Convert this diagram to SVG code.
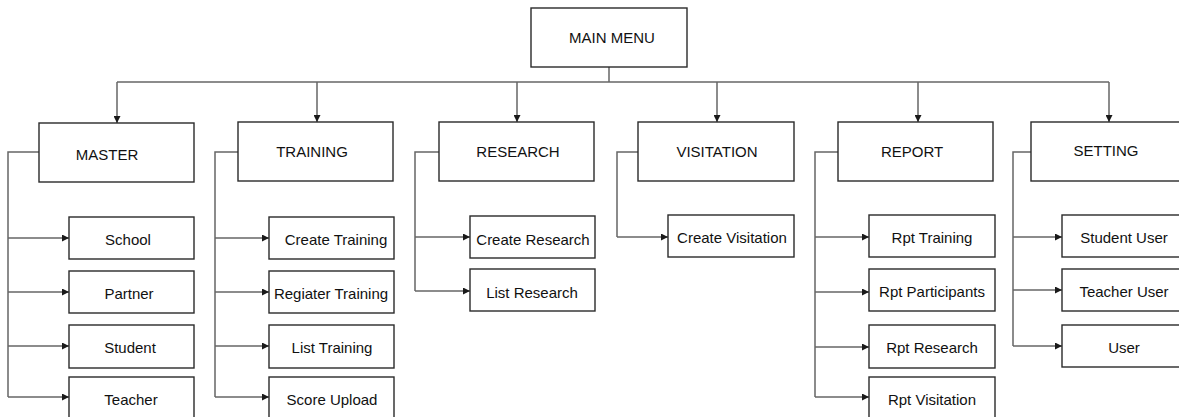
<svg xmlns="http://www.w3.org/2000/svg" width="1179" height="417" viewBox="0 0 1179 417">
<style>
.box{fill:#fff;stroke:#2a2a2a;stroke-width:1.4}
.lbl{font-family:"Liberation Sans",Arial,sans-serif;font-size:15px;fill:#111;text-anchor:middle}
.con{fill:none;stroke:#666;stroke-width:1.5}
.arr{fill:none;stroke:#666;stroke-width:1.5;marker-end:url(#ah)}
</style>
<defs>
<marker id="ah" viewBox="0 0 8 8" refX="8" refY="4" markerWidth="7" markerHeight="7" markerUnits="userSpaceOnUse" orient="auto">
<path d="M0,0 L8,4 L0,8 z" fill="#1a1a1a"/>
</marker>
</defs>
<rect width="1179" height="417" fill="#fff"/>
<g id="connectors">
<path class="con" d="M609,67 V82" stroke="#333" stroke-width="2"/>
<path class="con" d="M117,82 H1109"/>
<path class="arr" d="M117,82 V123"/>
<path class="arr" d="M317,82 V122"/>
<path class="arr" d="M517,82 V122"/>
<path class="arr" d="M717,82 V122"/>
<path class="arr" d="M918,82 V122"/>
<path class="arr" d="M1109,82 V122"/>
<!-- MASTER -->
<path class="con" d="M39,152 H8 V397"/>
<path class="arr" d="M8,238 H69"/>
<path class="arr" d="M8,292 H69"/>
<path class="arr" d="M8,346 H69"/>
<path class="arr" d="M8,397 H69"/>
<!-- TRAINING -->
<path class="con" d="M238,152 H215 V397"/>
<path class="arr" d="M215,238 H269"/>
<path class="arr" d="M215,292 H269"/>
<path class="arr" d="M215,346 H269"/>
<path class="arr" d="M215,397 H269"/>
<!-- RESEARCH -->
<path class="con" d="M439,152 H415 V291"/>
<path class="arr" d="M415,237 H470"/>
<path class="arr" d="M415,291 H470"/>
<!-- VISITATION -->
<path class="con" d="M638,152 H617 V237"/>
<path class="arr" d="M617,237 H668"/>
<!-- REPORT -->
<path class="con" d="M838,152 H815 V397"/>
<path class="arr" d="M815,237 H869"/>
<path class="arr" d="M815,292 H869"/>
<path class="arr" d="M815,347 H869"/>
<path class="arr" d="M815,397 H869"/>
<!-- SETTING -->
<path class="con" d="M1031,152 H1013 V346"/>
<path class="arr" d="M1013,237 H1062"/>
<path class="arr" d="M1013,290 H1062"/>
<path class="arr" d="M1013,346 H1062"/>
</g>
<g id="main-menu"><rect class="box" x="531" y="8" width="156" height="59"/><text class="lbl" x="612" y="43">MAIN MENU</text></g>
<g id="master"><rect class="box" x="39" y="123" width="155" height="59"/><text class="lbl" x="107" y="160">MASTER</text></g>
<g id="training"><rect class="box" x="238" y="122" width="155" height="59"/><text class="lbl" x="312" y="157">TRAINING</text></g>
<g id="research"><rect class="box" x="439" y="122" width="155" height="59"/><text class="lbl" x="518" y="157">RESEARCH</text></g>
<g id="visitation"><rect class="box" x="638" y="122" width="156" height="59"/><text class="lbl" x="717" y="157">VISITATION</text></g>
<g id="report"><rect class="box" x="838" y="122" width="155" height="59"/><text class="lbl" x="912" y="157">REPORT</text></g>
<g id="setting"><rect class="box" x="1031" y="122" width="160" height="59"/><text class="lbl" x="1106" y="156">SETTING</text></g>

<g id="school"><rect class="box" x="69" y="217" width="125" height="42"/><text class="lbl" x="128" y="245">School</text></g>
<g id="partner"><rect class="box" x="69" y="271" width="125" height="42"/><text class="lbl" x="129" y="299">Partner</text></g>
<g id="student"><rect class="box" x="69" y="325" width="125" height="43"/><text class="lbl" x="130" y="353">Student</text></g>
<g id="teacher"><rect class="box" x="69" y="377" width="125" height="45"/><text class="lbl" x="131" y="405">Teacher</text></g>

<g id="create-training"><rect class="box" x="269" y="217" width="125" height="42"/><text class="lbl" x="336" y="245">Create Training</text></g>
<g id="regiater-training"><rect class="box" x="269" y="271" width="125" height="42"/><text class="lbl" x="331" y="299">Regiater Training</text></g>
<g id="list-training"><rect class="box" x="269" y="325" width="125" height="43"/><text class="lbl" x="332" y="353">List Training</text></g>
<g id="score-upload"><rect class="box" x="269" y="377" width="125" height="45"/><text class="lbl" x="332" y="405">Score Upload</text></g>

<g id="create-research"><rect class="box" x="470" y="216" width="125" height="42"/><text class="lbl" x="533" y="245">Create Research</text></g>
<g id="list-research"><rect class="box" x="470" y="269" width="125" height="42"/><text class="lbl" x="532" y="298">List Research</text></g>

<g id="create-visitation"><rect class="box" x="668" y="215" width="126" height="42"/><text class="lbl" x="732" y="243">Create Visitation</text></g>

<g id="rpt-training"><rect class="box" x="869" y="215" width="126" height="42"/><text class="lbl" x="932" y="243">Rpt Training</text></g>
<g id="rpt-participants"><rect class="box" x="869" y="269" width="126" height="42"/><text class="lbl" x="932" y="297">Rpt Participants</text></g>
<g id="rpt-research"><rect class="box" x="869" y="325" width="126" height="43"/><text class="lbl" x="932" y="353">Rpt Research</text></g>
<g id="rpt-visitation"><rect class="box" x="869" y="377" width="126" height="45"/><text class="lbl" x="932" y="405">Rpt Visitation</text></g>

<g id="student-user"><rect class="box" x="1062" y="215" width="126" height="42"/><text class="lbl" x="1124" y="243">Student User</text></g>
<g id="teacher-user"><rect class="box" x="1062" y="269" width="126" height="42"/><text class="lbl" x="1124" y="297">Teacher User</text></g>
<g id="user"><rect class="box" x="1062" y="325" width="126" height="42"/><text class="lbl" x="1124" y="353">User</text></g>
</svg>
